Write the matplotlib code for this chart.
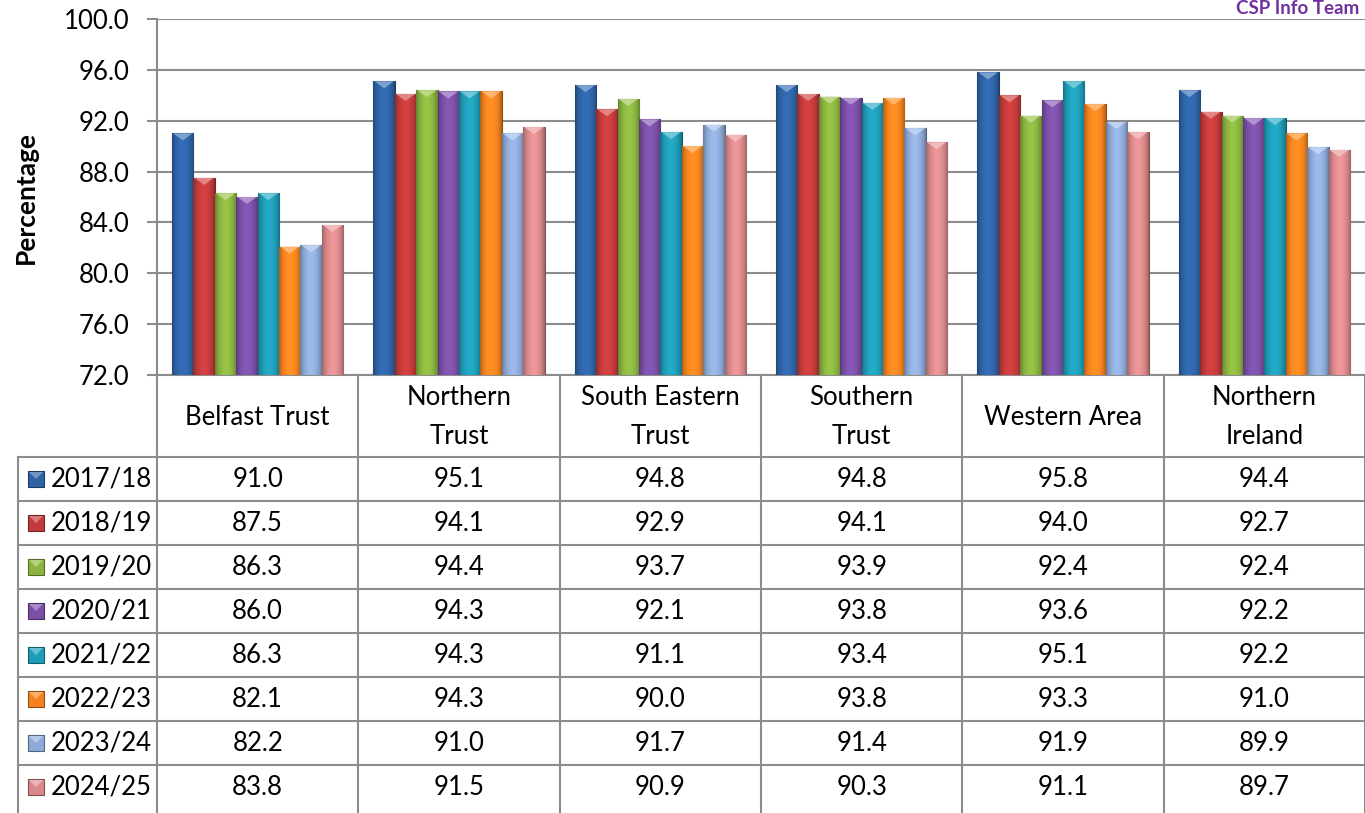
import numpy as np
import matplotlib.pyplot as plt
from matplotlib.patches import Rectangle, Polygon
from matplotlib.colors import to_rgb

plt.rcParams['font.family'] = ['Lato', 'DejaVu Sans']

areas = ['Belfast Trust', 'Northern\nTrust', 'South Eastern\nTrust', 'Southern\nTrust',
         'Western Area', 'Northern\nIreland']
years = ['2017/18', '2018/19', '2019/20', '2020/21', '2021/22', '2022/23', '2023/24', '2024/25']

v1718 = [91.0, 95.1, 94.8, 94.8, 95.8, 94.4]
v1819 = [87.5, 94.1, 92.9, 94.1, 94.0, 92.7]
v1920 = [86.3, 94.4, 93.7, 93.9, 92.4, 92.4]
v2021 = [86.0, 94.3, 92.1, 93.8, 93.6, 92.2]
v2122 = [86.3, 94.3, 91.1, 93.4, 95.1, 92.2]
v2223 = [82.1, 94.3, 90.0, 93.8, 93.3, 91.0]
v2324 = [82.2, 91.0, 91.7, 91.4, 91.9, 89.9]
v2425 = [83.8, 91.5, 90.9, 90.3, 91.1, 89.7]
values = [v1718, v1819, v1920, v2021, v2122, v2223, v2324, v2425]

colours = ['#2f63a6', '#c23b3b', '#8ab340', '#7a4fa5', '#1f9cb6', '#f3831f', '#8eaad7', '#d9898b']
grey = '#8c8c8c'
fs = 18.5

W, H = 1365, 813
fig = plt.figure(figsize=(W / 100, H / 100), dpi=100)

# table layer in pixel coordinates
tax = fig.add_axes([0, 0, 1, 1])
tax.set_xlim(0, W)
tax.set_ylim(H, 0)
tax.axis('off')

L, R, T, B = 157, 1365, 19, 375
ax = fig.add_axes([L / W, 1 - B / H, (R - L) / W, (B - T) / H])
ax.patch.set_alpha(0)

ymin, ymax = 72, 100
n = len(years)
group = 0.85
bw = group / n


def shade(c, k=40):
    t = np.linspace(0, 1, k)
    base = np.array(to_rgb(c))
    f = 0.72 + 0.38 * np.sin(np.pi * t) ** 0.7
    img = np.clip(base[None, :] * f[:, None], 0, 1)
    return img[None, :, :]


tri = 0.55
for j, (vals, c) in enumerate(zip(values, colours)):
    for i, v in enumerate(vals):
        x0 = i + 0.5 - group / 2 + j * bw
        bar = Rectangle((x0, ymin), bw, v - ymin, facecolor=c,
                        edgecolor=np.array(to_rgb(c)) * 0.6, lw=0.8, zorder=3)
        ax.add_patch(bar)
        im = ax.imshow(shade(c), extent=(x0, x0 + bw, ymin, v), aspect='auto',
                       zorder=3.5, interpolation='bilinear')
        im.set_clip_path(bar)
        light = np.clip(np.array(to_rgb(c)) * 0.6 + 0.45, 0, 1)
        ax.add_patch(Polygon([(x0 + 0.05 * bw, v), (x0 + 0.95 * bw, v), (x0 + bw / 2, v - tri)],
                             closed=True, facecolor=light, edgecolor='none', alpha=0.8, zorder=4))

ax.set_xlim(0, len(areas))
ax.set_ylim(ymin, ymax)
ax.set_yticks(np.arange(72, 101, 4))
ax.set_yticklabels([f'{t:.1f}' for t in np.arange(72, 101, 4)])
ax.set_xticks([])
ax.yaxis.grid(True, color=grey, lw=1.5)
ax.set_axisbelow(True)
for s in ['top', 'right']:
    ax.spines[s].set_visible(False)
for s in ['left', 'bottom']:
    ax.spines[s].set_color(grey)
    ax.spines[s].set_linewidth(1.5)
ax.tick_params(axis='y', length=7, width=1.5, color=grey, labelsize=fs, pad=13)

fig.text(26 / W, 1 - 198 / H, 'Percentage', rotation=90, ha='center', va='center',
         fontsize=19, fontweight='bold')
fig.text(1359 / W, 1.0, 'CSP Info Team', ha='right', va='top', fontsize=13.5,
         fontweight='bold', color='#7030a0')

# table
head_bot = 457
row_h = 44
colw = (R - L) / len(areas)
edges = [L + k * colw for k in range(len(areas) + 1)]
lkw = dict(color=grey, lw=1.5)
for e in edges:
    tax.plot([e, e], [B, H], **lkw)
tax.plot([18, 18], [head_bot, H], **lkw)
for r in range(n):
    y = head_bot + r * row_h
    tax.plot([18, R], [y, y], **lkw)

for i, a in enumerate(areas):
    tax.text(edges[i] + colw / 2, (B + head_bot) / 2 + 1, a, ha='center', va='center',
             fontsize=fs, linespacing=1.7)

for r, (yr, vals, c) in enumerate(zip(years, values, colours)):
    yc = head_bot + r * row_h + row_h / 2
    tax.add_patch(Rectangle((28, yc - 8), 16, 16, facecolor=c,
                            edgecolor=np.array(to_rgb(c)) * 0.6, lw=0.8))
    light = np.clip(np.array(to_rgb(c)) * 0.6 + 0.45, 0, 1)
    tax.add_patch(Polygon([(29, yc - 7), (43, yc - 7), (36, yc)], closed=True,
                          facecolor=light, edgecolor='none', alpha=0.7))
    tax.text(51, yc, yr, ha='left', va='center', fontsize=fs)
    for i, v in enumerate(vals):
        tax.text(edges[i] + colw / 2, yc, f'{v:.1f}', ha='center', va='center', fontsize=fs)

fig.savefig('out.png', dpi=100)
